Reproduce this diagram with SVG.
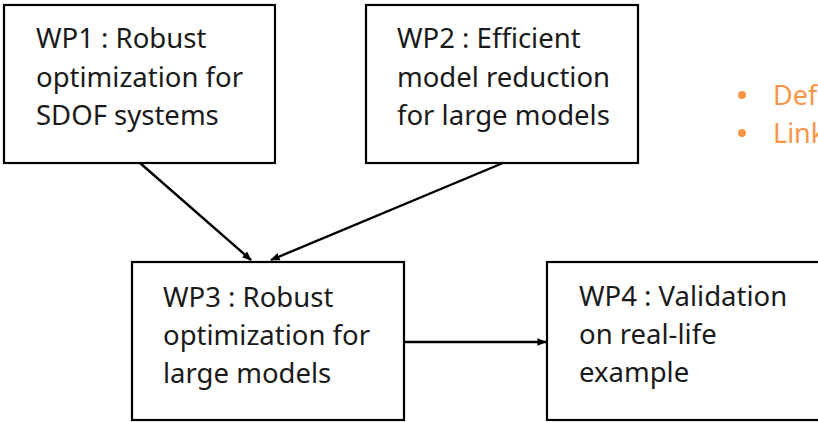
<svg xmlns="http://www.w3.org/2000/svg" width="818" height="422" viewBox="0 0 818 422">
<style>
.box{fill:#fff;stroke:#000;stroke-width:2.2}
.t{font-family:"Noto Sans","Open Sans",sans-serif;font-size:27.5px;fill:#1a1a1a}
.b{font-family:"Noto Sans","Open Sans",sans-serif;font-size:27px;fill:#F79646}
.c{stroke:#000;stroke-width:2.4;fill:none}
</style>
<defs>
<marker id="ah" viewBox="0 0 10 10" refX="9" refY="5" markerWidth="4" markerHeight="4" orient="auto" markerUnits="strokeWidth">
<path d="M0,1 L10,5 L0,9 Z" fill="#000"/>
</marker>
</defs>
<rect width="818" height="422" fill="#fff"/>
<g id="connectors">
<line class="c" x1="140" y1="163" x2="251" y2="260" marker-end="url(#ah)"/>
<line class="c" x1="503" y1="163" x2="271" y2="260" marker-end="url(#ah)"/>
<line class="c" x1="404" y1="342" x2="546" y2="342" marker-end="url(#ah)"/>
</g>
<g id="wp1">
<rect class="box" x="4" y="5" width="271" height="158"/>
<text class="t" x="36" y="48">WP1 : Robust</text>
<text class="t" x="36" y="87">optimization for</text>
<text class="t" x="36" y="125">SDOF systems</text>
</g>
<g id="wp2">
<rect class="box" x="366" y="5" width="272" height="158"/>
<text class="t" x="397" y="48">WP2 : Efficient</text>
<text class="t" x="397" y="87">model reduction</text>
<text class="t" x="397" y="125">for large models</text>
</g>
<g id="wp3">
<rect class="box" x="132" y="262" width="272" height="158"/>
<text class="t" x="163" y="307">WP3 : Robust</text>
<text class="t" x="163" y="345">optimization for</text>
<text class="t" x="163" y="383">large models</text>
</g>
<g id="wp4">
<rect class="box" x="547" y="262" width="290" height="158"/>
<text class="t" x="579" y="306">WP4 : Validation</text>
<text class="t" x="579" y="344">on real-life</text>
<text class="t" x="579" y="382">example</text>
</g>
<g id="bullets">
<circle cx="742" cy="95" r="4" fill="#F79646"/>
<circle cx="742" cy="133" r="4" fill="#F79646"/>
<text class="b" x="773" y="105">Def</text>
<text class="b" x="773" y="143">Link</text>
</g>
</svg>
